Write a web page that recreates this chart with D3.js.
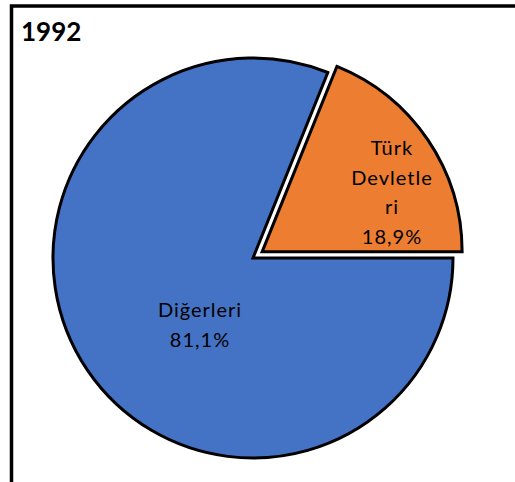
<!DOCTYPE html>
<html>
<head>
<meta charset="utf-8">
<script src="https://cdn.jsdelivr.net/npm/d3@7"></script>
<style>
  body { margin: 0; background: #fff; }
  svg { display: block; }
</style>
</head>
<body>
<div id="viz"></div>
<script>
// values
var categories = ["Diğerleri", "Türk Devletleri"];
var values = [81.1, 18.9];
var labelLines = [["Diğerleri", "81,1%"], ["Türk", "Devletle", "ri", "18,9%"]];
var colors = ["#4472C4", "#ED7D31"];
var title = "1992";

var width = 515, height = 482;
var cx = 253, cy = 258, radius = 200;
var explode = [0, 11];
// where each label block sits, relative to the pie centre
var labelOffset = [[-53, 59], [139, -103]];

var svg = d3.select("#viz").append("svg")
    .attr("width", width)
    .attr("height", height);

// outer frame (right and bottom run off the picture)
svg.append("rect")
    .attr("x", 11.5).attr("y", 6)
    .attr("width", 520).attr("height", 500)
    .attr("fill", "none")
    .attr("stroke", "#000")
    .attr("stroke-width", 3.5);

svg.append("text")
    .attr("x", 21).attr("y", 41)
    .attr("font-family", "Lato, 'Open Sans', sans-serif")
    .attr("font-weight", "bold")
    .attr("font-size", 26)
    .attr("fill", "#000")
    .text(title);

var pie = d3.pie()
    .sort(null)
    .startAngle(Math.PI / 2)
    .endAngle(Math.PI / 2 + 2 * Math.PI);

var arcs = pie(values);
var arc = d3.arc().innerRadius(0).outerRadius(radius);

var g = svg.append("g").attr("transform", "translate(" + cx + "," + cy + ")");

g.selectAll("path")
    .data(arcs)
    .enter()
    .append("path")
    .attr("d", arc)
    .attr("transform", function(d, i) {
        var mid = (d.startAngle + d.endAngle) / 2;
        return "translate(" + (Math.sin(mid) * explode[i]) + "," + (-Math.cos(mid) * explode[i]) + ")";
    })
    .attr("fill", (d, i) => colors[i])
    .attr("stroke", "#000")
    .attr("stroke-width", 3)
    .attr("stroke-linejoin", "miter");

var lineH = 29.5;
g.selectAll("text.lbl")
    .data(arcs)
    .enter()
    .append("text")
    .attr("class", "lbl")
    .attr("font-family", "Lato, 'Open Sans', sans-serif")
    .attr("font-size", 20)
    .attr("letter-spacing", 1)
    .attr("fill", "#000")
    .attr("text-anchor", "middle")
    .each(function(d, i) {
        var t = d3.select(this);
        labelLines[i].forEach(function(line, k) {
            t.append("tspan")
                .attr("x", labelOffset[i][0])
                .attr("y", labelOffset[i][1] + k * lineH)
                .text(line);
        });
    });
</script>
</body>
</html>
